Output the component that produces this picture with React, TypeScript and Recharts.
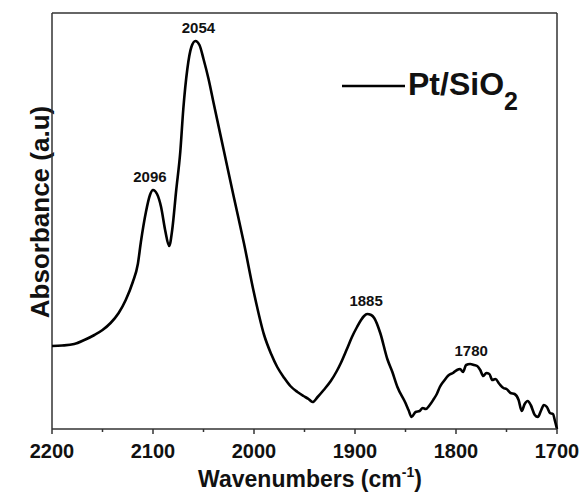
import { LineChart, Line, XAxis, YAxis, ReferenceDot, ReferenceLine } from 'recharts'

const wavenumbers = [
  2200, 2190, 2178, 2168, 2158, 2150, 2142, 2134, 2127, 2120, 2115, 2112, 2107, 2103, 2100, 2096, 2092, 2088, 2084,
  2081, 2077, 2073, 2070, 2066, 2062, 2058, 2054, 2050, 2045, 2040, 2030, 2020, 2010, 2000, 1990, 1983, 1977, 1970,
  1964, 1957, 1951, 1946, 1942, 1937, 1931, 1924, 1918, 1914, 1908, 1903, 1898, 1894, 1891, 1888, 1884, 1881, 1875,
  1868, 1863, 1858, 1850, 1847, 1844, 1840, 1836, 1833, 1830, 1826, 1822, 1819, 1816, 1812, 1807, 1803, 1799, 1796,
  1793, 1790, 1786, 1782, 1779, 1776, 1773, 1770, 1767, 1764, 1761, 1757, 1753, 1750, 1746, 1742, 1738, 1735, 1732,
  1729, 1726, 1722, 1719, 1716, 1713, 1710, 1707, 1704, 1702, 1700,
]

const absorbance = [
  81, 81.5, 83, 87, 92, 97, 104, 114, 127, 145, 163, 185, 215, 232, 237, 233, 220, 197, 181,
  197, 237, 275, 318, 358, 380, 386, 382, 368, 348, 324, 277, 230, 184, 134, 92, 73, 60, 49,
  41, 35, 31, 28, 25, 30, 37, 46, 56, 64, 78, 90, 100, 107, 111, 113, 112, 109, 94,
  68, 55, 40, 24, 17, 10, 15, 16, 19, 18, 22, 28, 33, 40, 46, 52, 54, 57, 58,
  55, 62, 63, 62, 61, 57, 51, 54, 53, 47, 48, 43, 39, 38, 34, 33, 27, 16, 23,
  26, 22, 12, 10, 16, 22, 20, 14, 13, 6, -2,
]

const xTicks = [2200, 2150, 2100, 2050, 2000, 1950, 1900, 1850, 1800, 1750, 1700]
const xEdges = [2200, 1700]
const yTop = 414

const peakLabels = ['2096', '2054', '1885', '1780']
const peakX = [2103, 2055, 1889, 1785]
const peakY = [237, 386, 113, 63]

const data = wavenumbers.map((w, i) => ({ w, a: absorbance[i] }))

const FONT = "'Liberation Sans', Arial, Helvetica, sans-serif"

const XTick = (props: any) => {
  const { x, y, payload } = props
  const major = payload.value % 100 === 0
  return (
    <g>
      <line x1={x} y1={y} x2={x} y2={y + (major ? 5 : 3)} stroke="#333" strokeWidth={1.5} />
      {major && (
        <text x={x} y={y + 29} textAnchor="middle" fontFamily={FONT} fontWeight="bold" fontSize={20} fill="#111">
          {payload.value}
        </text>
      )}
    </g>
  )
}

export default function App() {
  return (
    <div style={{ position: 'absolute', left: 0, top: 0, width: 582, height: 492, background: '#fff' }}>
      <LineChart width={582} height={492} data={data} margin={{ top: 13, right: 25, bottom: 0, left: 52 }}>
        <XAxis
          dataKey="w"
          type="number"
          domain={[1700, 2200]}
          reversed
          ticks={xTicks}
          interval={0}
          height={63}
          tickSize={0}
          tickMargin={0}
          tickLine={false}
          axisLine={{ stroke: '#333', strokeWidth: 1.5 }}
          tick={<XTick />}
        />
        <YAxis type="number" domain={[-2, 414]} hide />
        {/* left, right and top edges of the plot box */}
        {xEdges.map((x) => (
          <ReferenceLine key={x} x={x} stroke="#333" strokeWidth={1.5} ifOverflow="visible" />
        ))}
        <ReferenceLine y={yTop} stroke="#333" strokeWidth={1.5} ifOverflow="visible" />
        <Line
          type="monotone"
          dataKey="a"
          stroke="#000"
          strokeWidth={2.6}
          dot={false}
          isAnimationActive={false}
        />
        {peakLabels.map((label, i) => (
          <ReferenceDot
            key={label}
            x={peakX[i]}
            y={peakY[i]}
            r={0}
            fill="none"
            stroke="none"
            label={{
              value: label,
              position: 'top',
              offset: 8,
              fontFamily: FONT,
              fontWeight: 'bold',
              fontSize: 15,
              fill: '#111',
            }}
          />
        ))}
        <text
          x={40}
          y={212}
          transform="rotate(-90 40 212)"
          textAnchor="middle"
          dominantBaseline="central"
          fontFamily={FONT}
          fontWeight="bold"
          fontSize={26}
          fill="#111"
        >
          Absorbance (a.u)
        </text>
        <text x={310} y={487} textAnchor="middle" fontFamily={FONT} fontWeight="bold" fontSize={23} fill="#111">
          Wavenumbers (cm
          <tspan fontSize={14} dy={-10}>-1</tspan>
          <tspan dy={10}>)</tspan>
        </text>
        <g>
          <line x1={342} y1={86} x2={405} y2={86} stroke="#000" strokeWidth={2.6} />
          <text x={408} y={95} fontFamily={FONT} fontWeight="bold" fontSize={32} fill="#111">
            Pt/SiO
            <tspan fontSize={25} dy={15}>2</tspan>
          </text>
        </g>
      </LineChart>
    </div>
  )
}
